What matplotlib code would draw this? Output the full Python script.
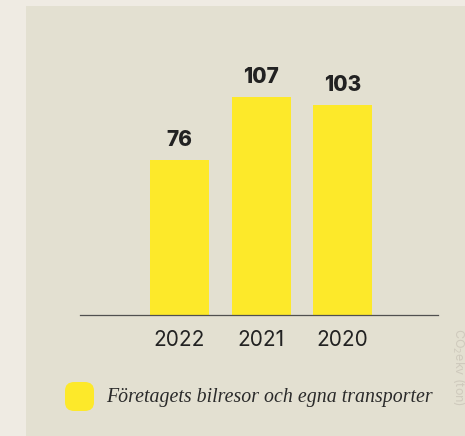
import matplotlib
matplotlib.use("Agg")
import matplotlib.pyplot as plt
from matplotlib.patches import Rectangle, FancyBboxPatch

years = ["2022", "2021", "2020"]
values = [76, 107, 103]
legend_label = "Företagets bilresor och egna transporter"

W, H = 465, 436
fig = plt.figure(figsize=(W / 100, H / 100), dpi=100)
fig.patch.set_facecolor("#efebe3")

def px(x, y):
    return x / W, 1 - y / H

# inner panel
x0, y0 = px(26, 6)
fig.patches.append(Rectangle((x0, 0), 1 - x0, y0, transform=fig.transFigure,
                             facecolor="#e3e0d1", edgecolor="none", zorder=-5))

scale = 2.038
ymax = 130
ax_l, ax_r, ax_b = 80, 438, 315
ax = fig.add_axes([ax_l / W, 1 - ax_b / H, (ax_r - ax_l) / W, ymax * scale / H])
ax.set_facecolor("none")
ax.set_zorder(2)

xs = list(range(len(years)))
ax.bar(xs, values, width=0.724, color="#fde92a", zorder=2)
ax.set_xlim(-1.22, 3.17)
ax.set_ylim(0, ymax)
for s in ["top", "left", "right"]:
    ax.spines[s].set_visible(False)
ax.spines["bottom"].set_color("#505050")
ax.spines["bottom"].set_linewidth(0.9)
ax.set_yticks([])
ax.set_xticks(xs)
ax.set_xticklabels(years, fontsize=15, family="Inter", color="#222222")
ax.tick_params(axis="x", length=0, pad=11)

for x, v in zip(xs, values):
    ax.annotate(str(v), (x, v), xytext=(0, 7.5), textcoords="offset points",
                ha="center", va="bottom", fontsize=15, fontweight="heavy",
                family="Inter", color="#222222")

# legend
lx0, ly0 = px(65, 411)
lx1, ly1 = px(94, 382)
fig.patches.append(FancyBboxPatch((lx0, ly0), lx1 - lx0, ly1 - ly0,
                                  boxstyle="round,pad=0,rounding_size=0.02",
                                  transform=fig.transFigure,
                                  facecolor="#fde92a", edgecolor="none", zorder=1))
tx, ty = px(106, 397)
fig.text(tx, ty, legend_label, fontsize=14.3, family="Liberation Serif",
         style="italic", color="#2a2a2a", ha="left", va="center")

# faint rotated unit label at the right edge
ux, uy = px(458, 328)
fig.text(ux, uy, "CO$_2$ekv (ton)", rotation=270, fontsize=9, color="#cfcabd",
         ha="center", va="top", family="Inter")

fig.savefig("out.png", dpi=100, facecolor=fig.get_facecolor())
